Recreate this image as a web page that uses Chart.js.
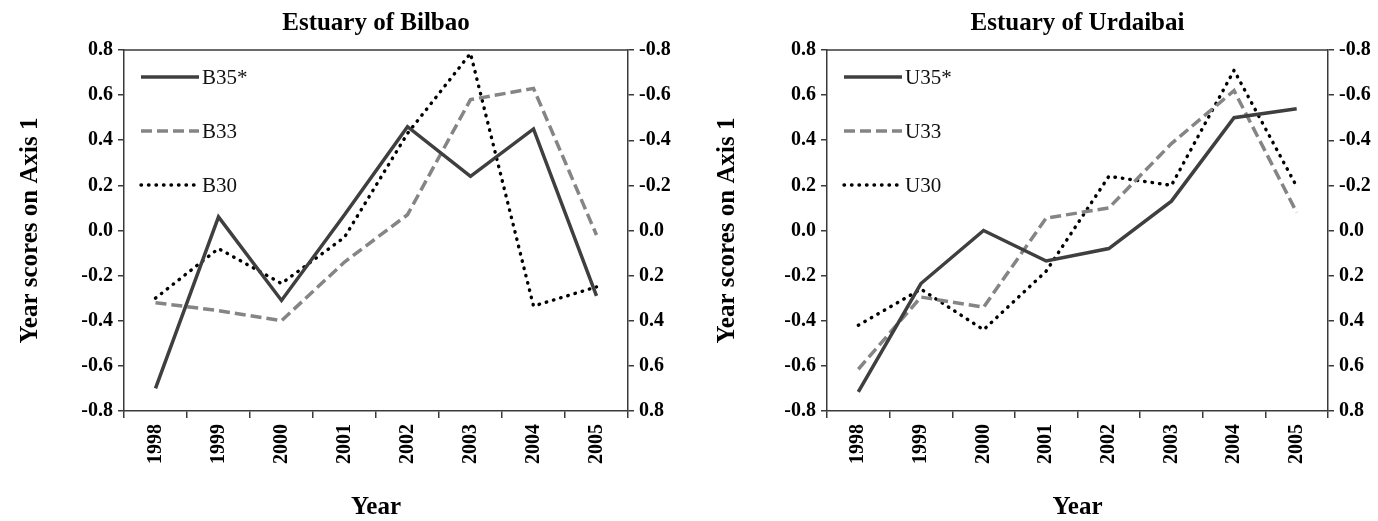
<!DOCTYPE html>
<html>
<head>
<meta charset="utf-8">
<title>Year scores on Axis 1</title>
<script src="https://cdn.jsdelivr.net/npm/chart.js@4.4.1/dist/chart.umd.min.js"></script>
<style>
  html, body { margin: 0; padding: 0; background: #ffffff; }
  #wrap { position: relative; width: 1378px; height: 521px; overflow: hidden; }
  .panel { position: absolute; top: 0; width: 689px; height: 521px; }
  canvas { display: block; }
</style>
</head>
<body>
<div id="wrap">
  <div class="panel" style="left:0"><canvas id="bilbao" width="689" height="521"></canvas></div>
  <div class="panel" style="left:689px"><canvas id="urdaibai" width="689" height="521"></canvas></div>
</div>
<script>
// Sampling years (x categories)
const years = ['1998', '1999', '2000', '2001', '2002', '2003', '2004', '2005'];

// Estuary of Bilbao: year scores on axis 1
const bilbaoB35 = [-0.70, 0.06, -0.31, 0.07, 0.46, 0.24, 0.45, -0.29];
const bilbaoB33 = [-0.32, -0.355, -0.40, -0.14, 0.07, 0.58, 0.63, -0.02];
const bilbaoB30 = [-0.30, -0.08, -0.235, -0.03, 0.43, 0.785, -0.335, -0.25];

// Estuary of Urdaibai: year scores on axis 1
const urdaibaiU35 = [-0.715, -0.235, 0.00, -0.135, -0.08, 0.13, 0.50, 0.54];
const urdaibaiU33 = [-0.615, -0.295, -0.34, 0.055, 0.10, 0.385, 0.62, 0.08];
const urdaibaiU30 = [-0.42, -0.26, -0.44, -0.18, 0.24, 0.20, 0.71, 0.195];

// Axis range shared by both panels (right axis is the mirrored scale)
const axisMin = -0.8;
const axisMax = 0.8;
const axisStep = 0.2;

const SERIF = "'Liberation Serif', 'Times New Roman', 'DejaVu Serif', serif";
const AXIS_COLOR = '#3a3a3a';

function fmtTick(v) {
  const r = Math.round(v * 10) / 10;
  return (r === 0 ? 0 : r).toFixed(1);
}

// Legend drawn inside the plot, stacked in the upper-left corner
const insideLegend = {
  id: 'insideLegend',
  afterDatasetsDraw(chart, args, opts) {
    const { ctx, chartArea } = chart;
    ctx.save();
    chart.data.datasets.forEach((ds, i) => {
      const y = chartArea.top + opts.firstRow + i * opts.rowGap;
      const x0 = chartArea.left + opts.lineStart;
      const x1 = x0 + opts.lineLength;
      ctx.beginPath();
      ctx.setLineDash(ds.borderDash || []);
      ctx.lineCap = ds.borderCapStyle || 'butt';
      ctx.lineWidth = ds.borderWidth;
      ctx.strokeStyle = ds.borderColor;
      ctx.moveTo(x0, y);
      ctx.lineTo(x1, y);
      ctx.stroke();
      ctx.setLineDash([]);
      ctx.fillStyle = '#111';
      ctx.font = opts.font;
      ctx.textBaseline = 'middle';
      ctx.textAlign = 'left';
      ctx.fillText(ds.label, x1 + opts.textGap, y + 1);
    });
    ctx.restore();
  }
};

// Closes the frame along the top edge of the plot
const topFrame = {
  id: 'topFrame',
  afterDraw(chart) {
    const { ctx, chartArea } = chart;
    ctx.save();
    ctx.strokeStyle = AXIS_COLOR;
    ctx.lineWidth = 1.5;
    ctx.beginPath();
    ctx.moveTo(chartArea.left, chartArea.top);
    ctx.lineTo(chartArea.right, chartArea.top);
    ctx.stroke();
    ctx.restore();
  }
};

function seriesStyles(names, values) {
  return [
    { label: names[0], data: values[0], borderColor: '#3f3f3f', borderWidth: 3.5,
      borderDash: [], borderCapStyle: 'butt' },
    { label: names[1], data: values[1], borderColor: '#858585', borderWidth: 3.5,
      borderDash: [11, 5], borderCapStyle: 'butt' },
    { label: names[2], data: values[2], borderColor: '#000000', borderWidth: 3.4,
      borderDash: [0.5, 7], borderCapStyle: 'round' }
  ].map(d => Object.assign(d, {
    fill: false, tension: 0, pointRadius: 0, pointHoverRadius: 0,
    borderJoinStyle: 'miter'
  }));
}

function makeChart(canvasId, titleText, names, values, dims) {
  const tickFont = { family: SERIF, size: 20, weight: 'bold' };
  const yTicks = {
    stepSize: axisStep, color: '#000', font: tickFont, padding: 5,
    callback: v => fmtTick(v)
  };
  return new Chart(document.getElementById(canvasId), {
    type: 'line',
    data: { labels: years, datasets: seriesStyles(names, values) },
    options: {
      responsive: false,
      animation: false,
      events: [],
      layout: { padding: 0 },
      plugins: {
        legend: { display: false },
        tooltip: { enabled: false },
        title: {
          display: true, text: titleText, fullSize: false, color: '#000',
          font: { family: SERIF, size: 25, weight: 'bold', lineHeight: 1.2 },
          padding: { top: 9, bottom: 11 }
        },
        insideLegend: {
          firstRow: 27, rowGap: 54, lineStart: 17, lineLength: 58, textGap: 3,
          font: "21px " + SERIF
        }
      },
      scales: {
        x: {
          type: 'category', offset: true,
          grid: { offset: true, drawOnChartArea: false, drawTicks: true,
                  tickLength: 7, color: AXIS_COLOR, lineWidth: 1.5 },
          border: { display: true, color: AXIS_COLOR, width: 1.5 },
          ticks: { minRotation: 90, maxRotation: 90, autoSkip: false,
                   color: '#000', font: tickFont, padding: 6 },
          title: { display: true, text: 'Year', color: '#000',
                   font: { family: SERIF, size: 25, weight: 'bold', lineHeight: 1.1 },
                   padding: { top: 0, bottom: 0 } },
          afterFit: s => { s.height = dims.xHeight; }
        },
        y: {
          type: 'linear', position: 'left', min: axisMin, max: axisMax,
          grid: { drawOnChartArea: false, drawTicks: true, tickLength: 6,
                  color: AXIS_COLOR, lineWidth: 1.5 },
          border: { display: true, color: AXIS_COLOR, width: 1.5 },
          ticks: yTicks,
          title: { display: true, text: 'Year scores on Axis 1', color: '#000',
                   font: { family: SERIF, size: 25, weight: 'bold', lineHeight: 1.2 },
                   padding: { top: dims.yTitlePad, bottom: 0 } },
          afterFit: s => { s.width = dims.leftWidth; }
        },
        y2: {
          type: 'linear', position: 'right', reverse: true, min: axisMin, max: axisMax,
          grid: { drawOnChartArea: false, drawTicks: true, tickLength: 6,
                  color: AXIS_COLOR, lineWidth: 1.5 },
          border: { display: true, color: AXIS_COLOR, width: 1.5 },
          ticks: yTicks,
          afterFit: s => { s.width = dims.rightWidth; }
        }
      }
    },
    plugins: [insideLegend, topFrame]
  });
}

makeChart('bilbao', 'Estuary of Bilbao', ['B35*', 'B33', 'B30'],
  [bilbaoB35, bilbaoB33, bilbaoB30],
  { leftWidth: 124, rightWidth: 61, xHeight: 110, yTitlePad: 16 });

makeChart('urdaibai', 'Estuary of Urdaibai', ['U35*', 'U33', 'U30'],
  [urdaibaiU35, urdaibaiU33, urdaibaiU30],
  { leftWidth: 138, rightWidth: 50, xHeight: 110, yTitlePad: 24 });
</script>
</body>
</html>
